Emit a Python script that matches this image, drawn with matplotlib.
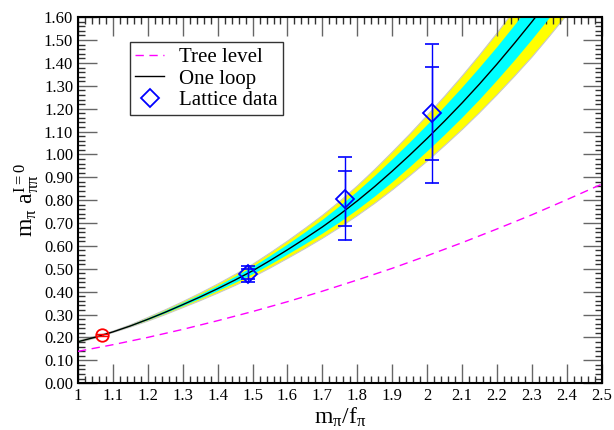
import matplotlib
matplotlib.use("Agg")
import matplotlib.pyplot as plt
from matplotlib.ticker import MultipleLocator, FormatStrFormatter

plt.rcParams['font.family'] = 'serif'
plt.rcParams['font.serif'] = ['Liberation Serif', 'DejaVu Serif']
plt.rcParams['mathtext.fontset'] = 'custom'
plt.rcParams['mathtext.rm'] = 'Liberation Serif'
plt.rcParams['mathtext.it'] = 'Liberation Serif'

# one loop curve and its error bands
x_loop = [1.0, 1.05, 1.1, 1.15, 1.2, 1.25, 1.3, 1.35, 1.4, 1.45, 1.5, 1.55, 1.6, 1.65,
          1.7, 1.75, 1.8, 1.85, 1.9, 1.95, 2.0, 2.05, 2.1, 2.15, 2.2, 2.25, 2.3, 2.35,
          2.4, 2.45, 2.5]
y_loop = [0.181, 0.201, 0.224, 0.250, 0.279, 0.310, 0.343, 0.377, 0.413, 0.451,
          0.491, 0.536, 0.583, 0.632, 0.683, 0.738, 0.797, 0.860, 0.927, 0.997,
          1.070, 1.146, 1.225, 1.308, 1.395, 1.486, 1.580, 1.678, 1.780, 1.883, 1.990]
err_inner = [0.002, 0.001, 0.001, 0.002, 0.004, 0.0055, 0.007, 0.009, 0.011, 0.0135,
             0.016, 0.019, 0.022, 0.026, 0.030, 0.035, 0.040, 0.045, 0.050, 0.054,
             0.058, 0.062, 0.066, 0.070, 0.073, 0.077, 0.080, 0.083, 0.086, 0.089, 0.092]
err_outer = [0.005, 0.004, 0.003, 0.005, 0.008, 0.0105, 0.013, 0.0165, 0.020, 0.024,
             0.028, 0.033, 0.038, 0.044, 0.050, 0.057, 0.065, 0.074, 0.083, 0.091,
             0.100, 0.108, 0.117, 0.126, 0.135, 0.145, 0.155, 0.162, 0.170, 0.177, 0.185]

# tree level
x_tree = [1.0, 1.1, 1.2, 1.3, 1.4, 1.5, 1.6, 1.7, 1.8, 1.9, 2.0, 2.1, 2.2, 2.3, 2.4, 2.5]
y_tree = [0.139, 0.168, 0.200, 0.235, 0.273, 0.313, 0.356, 0.402, 0.451, 0.502,
          0.557, 0.614, 0.674, 0.736, 0.802, 0.870]

# lattice data: value, inner (stat) and outer (total) errors
x_lat = [1.487, 1.765, 2.015]
y_lat = [0.477, 0.807, 1.179]
lat_inner = [0.022, 0.122, 0.203]
lat_outer = [0.036, 0.183, 0.302]

# physical point
x_phys = [1.068]
y_phys = [0.211]
phys_err = [0.006]

fig = plt.figure(figsize=(6.14, 4.30), dpi=100)
ax = fig.add_axes([0.127, 0.109, 0.853, 0.851])

lo_out = [y - e for y, e in zip(y_loop, err_outer)]
hi_out = [y + e for y, e in zip(y_loop, err_outer)]
lo_in = [y - e for y, e in zip(y_loop, err_inner)]
hi_in = [y + e for y, e in zip(y_loop, err_inner)]
ax.fill_between(x_loop, lo_out, hi_out, facecolor='#ffff00', edgecolor='#c8c8c8', lw=0.8, zorder=1)
ax.fill_between(x_loop, lo_in, hi_in, facecolor='#00ffff', edgecolor='none', zorder=2)

ax.plot(x_tree, y_tree, color='#ff00ff', ls=(0, (6, 4)), lw=1.0, label='Tree level', zorder=3)
ax.plot(x_loop, y_loop, color='black', lw=1.0, label='One loop', zorder=4)

ax.errorbar(x_lat, y_lat, yerr=lat_outer, fmt='none', ecolor='#0000ff', elinewidth=1.0,
            capsize=5, capthick=1.2, zorder=5)
ax.errorbar(x_lat, y_lat, yerr=lat_inner, fmt='none', ecolor='#0000ff', elinewidth=1.0,
            capsize=5, capthick=1.2, zorder=5)
ax.plot(x_lat, y_lat, 'D', ms=9, mfc='none', mec='#0000ff', mew=1.3, label='Lattice data', zorder=6)

ax.errorbar(x_phys, y_phys, yerr=phys_err, fmt='none', ecolor='red', elinewidth=1.0,
            capsize=4, zorder=5)
ax.plot(x_phys, y_phys, 'o', ms=9, mfc='none', mec='red', mew=1.3, zorder=6)

ax.set_xlim(1.0, 2.5)
ax.set_ylim(0.0, 1.6)
ax.xaxis.set_major_locator(MultipleLocator(0.1))
ax.xaxis.set_minor_locator(MultipleLocator(0.02))
ax.yaxis.set_major_locator(MultipleLocator(0.1))
ax.yaxis.set_minor_locator(MultipleLocator(0.02))
ax.yaxis.set_major_formatter(FormatStrFormatter('%.2f'))
ax.xaxis.set_major_formatter(plt.FuncFormatter(lambda v, p: '%d' % round(v) if abs(v - round(v)) < 1e-9 else '%.1f' % v))

ax.tick_params(which='both', direction='in', top=True, right=True, labelsize=12)
ax.tick_params(which='major', length=14, width=1.0, color='#666666')
ax.tick_params(which='minor', length=5, width=1.0, color='#333333')
for s in ax.spines.values():
    s.set_linewidth(1.5)

ax.set_xlabel(r'$\mathrm{m_{\pi}/f_{\pi}}$', fontsize=17, labelpad=1)
ax.set_ylabel(r'$\mathrm{m_{\pi}\ a_{\pi\pi}^{I=0}}$', fontsize=17, labelpad=2)

leg = ax.legend(loc='upper left', bbox_to_anchor=(0.099, 0.932), fontsize=15, frameon=True,
                fancybox=False, edgecolor='black', handlelength=1.4, borderpad=0.25,
                labelspacing=0.1, handletextpad=0.7, borderaxespad=0)
leg.get_frame().set_linewidth(1.0)

fig.savefig('out.png', dpi=100)
